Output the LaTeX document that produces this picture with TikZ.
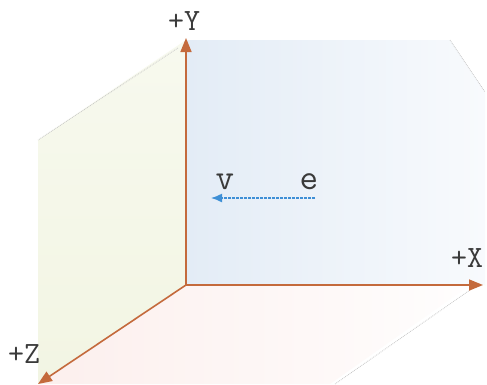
\documentclass[tikz,border=0pt]{standalone}
\usepackage{fontspec}
\usetikzlibrary{arrows.meta}
\definecolor{axiscol}{HTML}{C46A3C}
\definecolor{vecblue}{HTML}{3E8FD6}
\definecolor{planeblue}{HTML}{E3ECF6}
\definecolor{planegreen}{HTML}{F2F5E3}
\definecolor{planepink}{HTML}{FCEFED}
\definecolor{hatch}{HTML}{C8C8C8}
\definecolor{labcol}{HTML}{3A3A3A}
\tikzset{
  axis/.style={draw=axiscol, line width=1.6pt, -{Triangle[length=14pt,width=11pt]}},
  lab/.style={font=\ttfamily\addfontfeatures{FakeStretch=1.05}\fontsize{31}{31}\selectfont, text=labcol, inner sep=0pt, anchor=base},
  vlab/.style={font=\ttfamily\fontsize{36}{36}\selectfont, text=labcol, inner sep=0pt, anchor=base},
  vec/.style={draw=vecblue, line width=1.4pt, dash pattern=on 3pt off 1pt, -{Latex[length=11pt,width=9pt]}},
  edge/.style={draw=hatch, line width=0.8pt, densely dotted}
}
\begin{document}
\begin{tikzpicture}[x=1pt,y=-1pt]
\useasboundingbox[fill=white] (0,0) rectangle (487,384);
% corners
\coordinate (O) at (186,285);
\coordinate (Yt) at (186,38);
\coordinate (Xt) at (483,285);
\coordinate (Zt) at (38,384);
% planes
\shade[left color=planeblue, right color=planeblue!25] (186,40) -- (450,40) -- (485,92) -- (485,285) -- (186,285) -- cycle;
\shade[top color=planegreen!60, bottom color=planegreen] (186,40) -- (38,140) -- (38,384) -- (186,285) -- cycle;
\shade[left color=planepink, right color=planepink!10] (186,285) -- (470,285) -- (330,384) -- (38,384) -- cycle;
% hatched edges
\draw[edge] (178,48) -- (38,140);
\draw[edge] (450,40) -- (485,92);
\draw[edge] (470,290) -- (335,384);
% axes
\draw[axis] (O) -- (Yt);
\draw[axis] (O) -- (Xt);
\draw[axis] (O) -- (Zt);
% labels
\node[lab] (ly) at (184,30) {+Y};
\node[lab] (lx) at (467,267) {+X};
\node[lab] (lz) at (24,363) {+Z};
\node[vlab] (lv) at (225,189) {v};
\node[vlab] (le) at (309,189) {e};
\coordinate (vs) at (315,198);
\coordinate (ve) at (211,198);
\draw[vec] (vs) -- (ve);
\end{tikzpicture}
\end{document}
